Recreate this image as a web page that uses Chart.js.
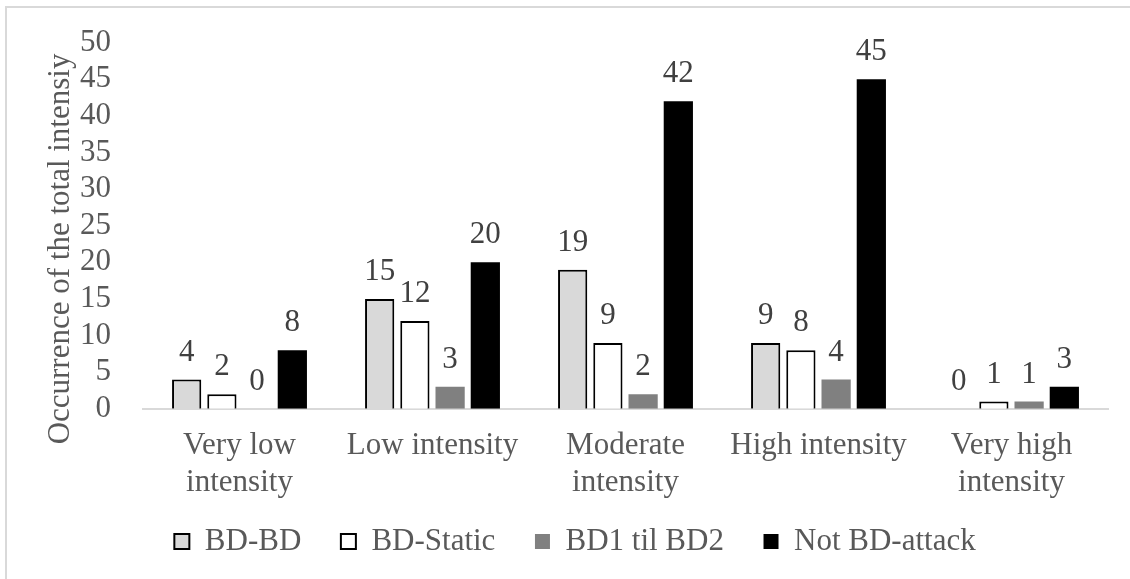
<!DOCTYPE html>
<html>
<head>
<meta charset="utf-8">
<script src="https://cdn.jsdelivr.net/npm/chart.js@4.4.1/dist/chart.umd.min.js"></script>
<style>
  body { margin: 0; background: #fff; }
  #wrap { position: relative; width: 1130px; height: 579px; }
  #frame { position: absolute; left: 5px; top: 6px; right: -10px; bottom: -10px;
           border-left: 2px solid #d9d9d9; border-top: 2px solid #d9d9d9; }
  canvas { position: absolute; left: 0; top: 0; }
</style>
</head>
<body>
<div id="wrap">
  <div id="frame"></div>
  <canvas id="myChart" width="1130" height="579"></canvas>
</div>
<script>
'use strict';

const categories = [
  ['Very low', 'intensity'],
  'Low intensity',
  ['Moderate', 'intensity'],
  'High intensity',
  ['Very high', 'intensity']
];
const seriesNames = ['BD-BD', 'BD-Static', 'BD1 til BD2', 'Not BD-attack'];
const bdBd = [4, 15, 19, 9, 0];
const bdStatic = [2, 12, 9, 8, 1];
const bd1TilBd2 = [0, 3, 2, 4, 1];
const notBdAttack = [8, 20, 42, 45, 3];
const yTicks = [0, 5, 10, 15, 20, 25, 30, 35, 40, 45, 50];

const textColor = '#595959';
const fontFamily = '"Liberation Serif", "Times New Roman", serif';
const fontSize = 31;

// value labels above each bar
const valueLabels = {
  id: 'valueLabels',
  afterDatasetsDraw: (chart) => {
    const { ctx } = chart;
    ctx.save();
    ctx.font = fontSize + 'px ' + fontFamily;
    ctx.fillStyle = '#404040';
    ctx.textAlign = 'center';
    ctx.textBaseline = 'alphabetic';
    chart.data.datasets.forEach((ds, i) => {
      chart.getDatasetMeta(i).data.forEach((bar, j) => {
        ctx.fillText(String(ds.data[j]), bar.x, bar.y - 19);
      });
    });
    ctx.restore();
  }
};

const ctx = document.getElementById('myChart').getContext('2d');

const data = {
  labels: categories,
  datasets: [
    { label: seriesNames[0], data: bdBd, backgroundColor: '#d9d9d9', borderColor: '#000', borderWidth: 2 },
    { label: seriesNames[1], data: bdStatic, backgroundColor: '#ffffff', borderColor: '#000', borderWidth: 2 },
    { label: seriesNames[2], data: bd1TilBd2, backgroundColor: '#808080', borderColor: '#808080', borderWidth: 0 },
    { label: seriesNames[3], data: notBdAttack, backgroundColor: '#000000', borderColor: '#000', borderWidth: 0 }
  ]
};

const config = {
  type: 'bar',
  data: data,
  options: {
    responsive: false,
    animation: false,
    layout: { padding: { top: 2, right: 22, left: 42, bottom: 12 } },
    datasets: {
      bar: { categoryPercentage: 0.73, barPercentage: 0.83 }
    },
    scales: {
      x: {
        grid: { display: true, drawOnChartArea: false, drawTicks: false, color: 'transparent' },
        border: { display: true, color: '#d9d9d9', width: 2 },
        ticks: {
          color: textColor,
          padding: 19,
          maxRotation: 0,
          font: { family: fontFamily, size: fontSize, lineHeight: 1.18 }
        }
      },
      y: {
        min: 0,
        max: 50,
        afterFit: (scale) => { scale.width = 101; },
        afterBuildTicks: (axis) => { axis.ticks = yTicks.map(v => ({ value: v })); },
        grid: { display: false },
        border: { display: false },
        ticks: {
          color: textColor,
          padding: 24,
          autoSkip: false,
          font: { family: fontFamily, size: fontSize }
        },
        title: {
          display: true,
          // trailing spaces push the rotated title a bit lower, as in the original
          text: 'Occurrence of the total intensiy\u2002\u2002\u2002',
          color: textColor,
          padding: 0,
          font: { family: fontFamily, size: fontSize }
        }
      }
    },
    plugins: {
      legend: {
        position: 'bottom',
        labels: {
          color: textColor,
          boxWidth: 15,
          boxHeight: 15,
          padding: 6,
          font: { family: fontFamily, size: fontSize },
          // wider gap between legend items than above them
          generateLabels: (chart) => {
            const items = Chart.defaults.plugins.legend.labels.generateLabels(chart);
            items.forEach((item, i) => {
              if (i < items.length - 1) item.text += '\u2002\u2002\u200A';
            });
            return items;
          }
        }
      },
      tooltip: { enabled: false }
    }
  },
  plugins: [valueLabels]
};

const myChart = new Chart(ctx, config);
</script>
</body>
</html>
